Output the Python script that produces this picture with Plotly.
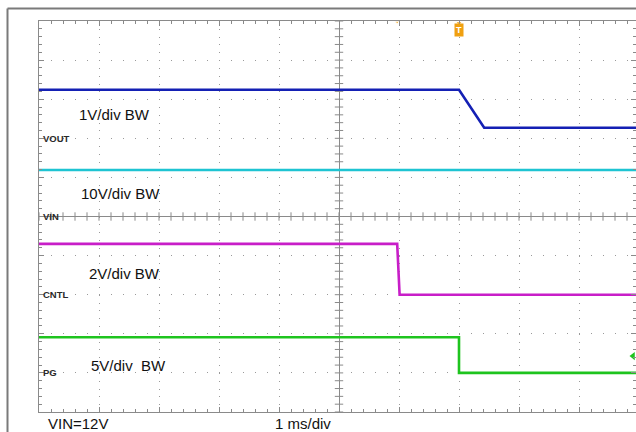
import numpy as np
import plotly.graph_objects as go

# ---- data (time in ms relative to screen centre, levels in volts) ----
vout_t = [-5.0, 2.0, 2.42, 4.95]
vout_v = [1.24, 1.24, 0.27, 0.27]
vin_t = [-5.0, 4.95]
vin_v = [11.9, 11.9]
cntl_t = [-5.0, 0.97, 1.01, 4.95]
cntl_v = [2.6, 2.6, 0.0, 0.0]
pg_t = [-5.0, 2.0, 2.0, 4.95]
pg_v = [4.55, 4.55, 0.0, 0.0]

channel_names = ["VOUT", "VIN", "CNTL", "PG"]
channel_scales = [1, 10, 2, 5]          # V/div
channel_ground = [2, 0, -2, -4]         # ground marker position (div)
channel_colors = ["#1420b4", "#1ec4d2", "#c81ec8", "#1ec41e"]
channel_labels = ["1V/div BW", "10V/div BW", "2V/div BW", "5V/div\u00a0\u00a0BW"]
label_pos_t = [-4.37, -4.33, -4.2, -4.17]
label_pos_div = [2.6, 0.6, -1.45, -3.8]

trigger_time = 2.0
pg_trigger_level = 2.15
footer_left = "VIN=12V"
footer_mid = "1 ms/div"

series = [(vout_t, vout_v), (vin_t, vin_v), (cntl_t, cntl_v), (pg_t, pg_v)]

GRID = "#8a8a8a"
fig = go.Figure()

# centre-line tick decorations (graticule)
tx = np.arange(-5, 5.0, 0.2)
ty = np.arange(-5, 5.01, 0.2)
fig.add_trace(go.Scatter(x=tx, y=[0] * len(tx), mode="markers",
                         marker=dict(symbol="line-ns-open", size=6, color=GRID, line=dict(color=GRID, width=1)),
                         hoverinfo="skip", showlegend=False))
fig.add_trace(go.Scatter(x=[0] * len(ty), y=ty, mode="markers",
                         marker=dict(symbol="line-ew-open", size=6, color=GRID, line=dict(color=GRID, width=1)),
                         hoverinfo="skip", showlegend=False))

for (t, v), sc, g, col, name in zip(series, channel_scales, channel_ground, channel_colors, channel_names):
    ydiv = [g + val / sc for val in v]
    fig.add_trace(go.Scatter(x=t, y=ydiv, mode="lines", name=name,
                             line=dict(color=col, width=2.6), showlegend=False))

# ground labels
for name, g in zip(channel_names, channel_ground):
    fig.add_annotation(x=-4.97, y=g, text="<b>" + name + "</b>", showarrow=False,
                       xanchor="left", yanchor="middle",
                       font=dict(family="Liberation Sans, Arial", size=9.5, color="#2a2a2a"))

# V/div labels
for txt, lt, ld in zip(channel_labels, label_pos_t, label_pos_div):
    fig.add_annotation(x=lt, y=ld, text=txt, showarrow=False, xanchor="left", yanchor="middle",
                       font=dict(family="Liberation Sans, Arial", size=15, color="#111111"))

# trigger marker
fig.add_trace(go.Scatter(x=[trigger_time, 0.97], y=[4.95, 4.97], mode="markers",
                         marker=dict(symbol="triangle-down", size=[6, 4], color="#f0a010"),
                         hoverinfo="skip", showlegend=False))
fig.add_annotation(x=trigger_time, y=4.77, text="<b>T</b>", showarrow=False,
                   bgcolor="#f0a010", borderpad=1, xanchor="center", yanchor="middle",
                   font=dict(family="Liberation Sans, Arial", size=9, color="#ffffff"))
# PG trigger level marker
fig.add_trace(go.Scatter(x=[4.9], y=[channel_ground[3] + pg_trigger_level / channel_scales[3]],
                         mode="markers", marker=dict(symbol="triangle-left", size=7, color="#1ec41e"),
                         hoverinfo="skip", showlegend=False))

W, H = 636, 432
ML, MT, MB = 39, 21, 20
PW, PH = W - ML, H - MT - MB

def px_x(p):
    return (p - ML) / PW

def px_y(p):
    return (H - MB - p) / PH

# footer
fig.add_annotation(x=px_x(46), xref="paper", y=px_y(423.5), yref="paper", text=footer_left, showarrow=False,
                   xanchor="left", yanchor="middle", font=dict(family="Liberation Sans, Arial", size=15, color="#111111"))
fig.add_annotation(x=px_x(273), xref="paper", y=px_y(423.5), yref="paper", text=footer_mid, showarrow=False,
                   xanchor="left", yanchor="middle", font=dict(family="Liberation Sans, Arial", size=15, color="#111111"))

# outer frame
fig.add_shape(type="line", xref="paper", yref="paper", x0=px_x(7.5), x1=1.05,
              y0=px_y(8.5), y1=px_y(8.5), line=dict(color="#7a7a7a", width=2))
fig.add_shape(type="line", xref="paper", yref="paper", x0=px_x(7.5), x1=px_x(7.5),
              y0=px_y(8.5), y1=px_y(H + 5), line=dict(color="#7a7a7a", width=2))

fig.update_xaxes(range=[-5, 4.95], dtick=1, tick0=0, showticklabels=False,
                 ticks="inside", ticklen=5, tickcolor=GRID,
                 minor=dict(dtick=0.2, ticks="inside", ticklen=3, tickcolor=GRID, showgrid=False),
                 showgrid=True, gridcolor="#9a9a9a", gridwidth=1.2, griddash="1px,6.82px",
                 zeroline=True, zerolinecolor=GRID, zerolinewidth=1,
                 showline=True, linecolor=GRID, linewidth=1, mirror="ticks", fixedrange=True)
fig.update_yaxes(range=[-5, 5], dtick=1, tick0=0, showticklabels=False,
                 ticks="inside", ticklen=5, tickcolor=GRID,
                 minor=dict(dtick=0.2, ticks="inside", ticklen=3, tickcolor=GRID, showgrid=False),
                 showgrid=True, gridcolor="#9a9a9a", gridwidth=1.2, griddash="1px,11px",
                 zeroline=True, zerolinecolor=GRID, zerolinewidth=1,
                 showline=True, linecolor=GRID, linewidth=1, mirror="ticks", fixedrange=True)

fig.update_layout(width=W, height=H, margin=dict(l=ML, r=0, t=MT, b=MB),
                  paper_bgcolor="white", plot_bgcolor="white", showlegend=False)

# remove the default 8px page margin so the figure fills the window exactly
fig.write_html("out.html", config={"displayModeBar": False},
               post_script="document.body.style.margin='0';document.body.style.overflow='hidden';")
